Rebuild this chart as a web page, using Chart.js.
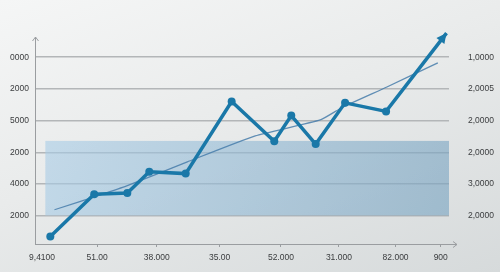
<!DOCTYPE html>
<html>
<head>
<meta charset="utf-8">
<script src="https://cdn.jsdelivr.net/npm/chart.js@4/dist/chart.umd.min.js"></script>
<style>
  html, body { margin: 0; padding: 0; }
  body {
    width: 500px; height: 272px; overflow: hidden;
    background: linear-gradient(160deg, #f5f6f6 0%, #e9ebeb 45%, #d6dadb 100%);
  }
  canvas { display: block; }
</style>
</head>
<body>
<canvas id="chart" width="500" height="272"></canvas>
<script>
// tick labels (as printed on the picture)
var xTickLabels = ['9,4100', '51.00', '38.000', '35.00', '52.000', '31.000', '82.000', '900']
var xTickPos = [1.7, 15.0, 29.4, 44.6, 59.4, 73.4, 87.1, 98.0]
var yLeftLabels = ['2000', '4000', '2000', '5000', '2000', '0000']
var yRightLabels = ['2,0000', '3,0000', '2,0000', '2,0000', '2,0005', '1,0000']
var yTickPos = [1, 2, 3, 4, 5, 6]

// main series
var mainX = [3.7, 14.3, 22.3, 27.6, 36.4, 47.5, 57.8, 61.9, 67.8, 74.9, 84.8, 99.4]
var mainY = [0.35, 1.68, 1.72, 2.39, 2.33, 4.60, 3.35, 4.16, 3.26, 4.56, 4.29, 6.76]

// trend series
var trendX = [4.7, 15.8, 22.3, 36.8, 53.2, 68.9, 74.4, 85.0, 97.3]
var trendY = [1.19, 1.66, 1.95, 2.70, 3.52, 4.02, 4.43, 5.06, 5.82]

// shaded band (x from..to, y from..to)
var bandX = [2.5, 100]
var bandY = [1.01, 3.36]

var lineColor = '#1a78a8'
var labelFont = { family: "'Liberation Sans Narrow', 'Liberation Sans', Arial, sans-serif", size: 8.5 }
var labelColor = '#3a3c3e'
var axisColor = '#9a9da0'

function toPoints(xs, ys) {
  return xs.map(function (x, i) { return { x: x, y: ys[i] } })
}

// band behind the lines, axis lines with arrows, arrow head on the main line
var decor = {
  id: 'decor',
  beforeDatasetsDraw: function (chart) {
    var ctx = chart.ctx
    var xs = chart.scales.x, ys = chart.scales.y
    var x0 = xs.getPixelForValue(bandX[0]), x1 = xs.getPixelForValue(bandX[1])
    var y0 = ys.getPixelForValue(bandY[1]), y1 = ys.getPixelForValue(bandY[0])
    var g = ctx.createLinearGradient(x0, y0, x1, y1)
    g.addColorStop(0, 'rgba(168, 204, 230, 0.6)')
    g.addColorStop(1, 'rgba(118, 162, 192, 0.6)')
    ctx.save()
    ctx.fillStyle = g
    ctx.fillRect(x0, y0, x1 - x0, y1 - y0)
    ctx.restore()
  },
  afterDraw: function (chart) {
    var ctx = chart.ctx
    var a = chart.chartArea
    ctx.save()
    ctx.strokeStyle = axisColor
    ctx.lineWidth = 1
    // y axis
    ctx.beginPath()
    ctx.moveTo(a.left + 0.5, a.bottom)
    ctx.lineTo(a.left + 0.5, 37)
    ctx.stroke()
    ctx.beginPath()
    ctx.moveTo(a.left - 2.5, 41)
    ctx.lineTo(a.left + 0.5, 37)
    ctx.lineTo(a.left + 3.5, 41)
    ctx.stroke()
    // x axis
    ctx.beginPath()
    ctx.moveTo(a.left, a.bottom + 0.5)
    ctx.lineTo(457, a.bottom + 0.5)
    ctx.stroke()
    ctx.beginPath()
    ctx.moveTo(453, a.bottom - 2.5)
    ctx.lineTo(457, a.bottom + 0.5)
    ctx.lineTo(453, a.bottom + 3.5)
    ctx.stroke()

    // arrow head at the end of the main line
    var pts = chart.getDatasetMeta(0).data
    var p1 = pts[pts.length - 2], p2 = pts[pts.length - 1]
    var ang = Math.atan2(p2.y - p1.y, p2.x - p1.x)
    var len = 10, wid = 5
    ctx.fillStyle = lineColor
    ctx.beginPath()
    ctx.moveTo(p2.x, p2.y)
    ctx.lineTo(p2.x - len * Math.cos(ang) + wid * Math.sin(ang), p2.y - len * Math.sin(ang) - wid * Math.cos(ang))
    ctx.lineTo(p2.x - len * Math.cos(ang) - wid * Math.sin(ang), p2.y - len * Math.sin(ang) + wid * Math.cos(ang))
    ctx.closePath()
    ctx.fill()
    ctx.restore()
  }
}

var ctx = document.getElementById('chart').getContext('2d')
var chart = new Chart(ctx, {
  type: 'line',
  data: {
    datasets: [
      {
        label: 'main',
        data: toPoints(mainX, mainY),
        borderColor: lineColor,
        backgroundColor: lineColor,
        borderWidth: 3.5,
        pointRadius: mainX.map(function (v, i) { return i === mainX.length - 1 ? 0 : 4 }),
        pointBorderWidth: 0,
        tension: 0,
        clip: false
      },
      {
        label: 'trend',
        data: toPoints(trendX, trendY),
        borderColor: 'rgba(70, 125, 170, 0.85)',
        borderWidth: 1.3,
        pointRadius: 0,
        tension: 0.15,
        clip: false
      }
    ]
  },
  options: {
    responsive: false,
    animation: false,
    layout: { padding: { top: 28, left: 0, right: 0, bottom: 0 } },
    plugins: { legend: { display: false }, tooltip: { enabled: false } },
    scales: {
      x: {
        type: 'linear',
        position: 'bottom',
        min: 0,
        max: 100,
        afterBuildTicks: function (s) { s.ticks = xTickPos.map(function (v) { return { value: v } }) },
        afterFit: function (s) { s.height = 28 },
        border: { display: false },
        grid: {
          drawOnChartArea: false,
          drawTicks: true,
          tickLength: 3,
          color: function (c) { return c.index === 0 ? 'rgba(0,0,0,0)' : axisColor }
        },
        ticks: {
          autoSkip: false,
          maxRotation: 0,
          padding: 6,
          color: labelColor,
          font: labelFont,
          callback: function (v, i) { return xTickLabels[i] }
        }
      },
      y: {
        type: 'linear',
        position: 'left',
        min: 0.11,
        max: 6.92,
        afterBuildTicks: function (s) { s.ticks = yTickPos.map(function (v) { return { value: v } }) },
        afterFit: function (s) { s.width = 35 },
        border: { display: false },
        grid: { color: '#b3b6b8', lineWidth: 1.5, drawTicks: false },
        ticks: {
          padding: 6,
          color: labelColor,
          font: labelFont,
          callback: function (v, i) { return yLeftLabels[i] }
        }
      },
      y2: {
        type: 'linear',
        position: 'right',
        min: 0.11,
        max: 6.92,
        afterBuildTicks: function (s) { s.ticks = yTickPos.map(function (v) { return { value: v } }) },
        afterFit: function (s) { s.width = 51 },
        border: { display: false },
        grid: { drawOnChartArea: false, drawTicks: false },
        ticks: {
          padding: 19,
          color: labelColor,
          font: labelFont,
          callback: function (v, i) { return yRightLabels[i] }
        }
      }
    }
  },
  plugins: [decor]
})
</script>
</body>
</html>
